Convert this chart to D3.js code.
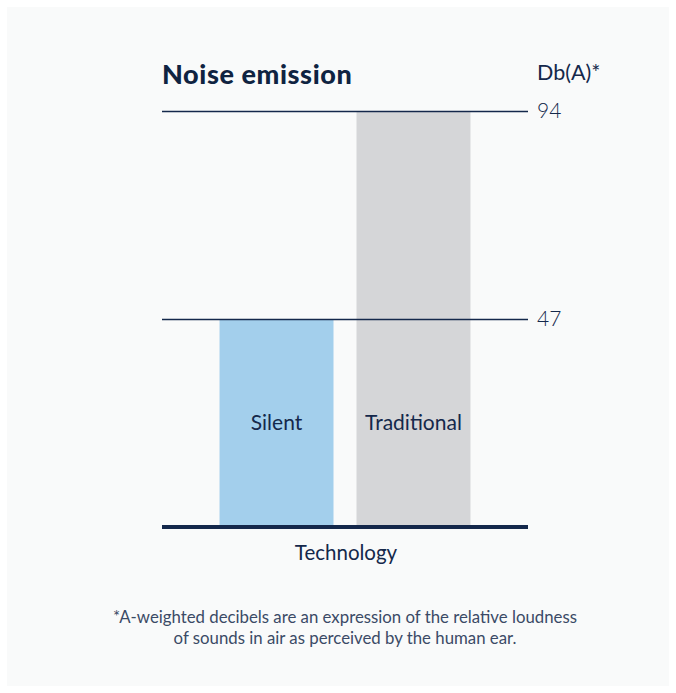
<!DOCTYPE html>
<html>
<head>
<meta charset="utf-8">
<script src="https://cdn.jsdelivr.net/npm/d3@7"></script>
<style>
  html, body { margin: 0; padding: 0; background: #fff; }
  svg { display: block; font-family: Lato, "Open Sans", sans-serif; }
</style>
</head>
<body>
<svg id="chart" width="676" height="693"></svg>
<script>
const categories = ["Silent", "Traditional"];
const values = [47, 94];
const tickValues = [47, 94];
const title = "Noise emission";
const unit = "Db(A)*";
const xLabel = "Technology";
const footnote = [
    "*A-weighted decibels are an expression of the relative loudness",
    "of sounds in air as perceived by the human ear."
];

const navy = "#14284b";
const colors = ["#a3cfec", "#d5d6d8"];

const plotLeft = 162, plotRight = 528, plotBase = 527, plotTop = 111;

const svg = d3.select("#chart");

svg.append("rect")
    .attr("x", 7).attr("y", 7)
    .attr("width", 662).attr("height", 679)
    .attr("fill", "#f9fafa");

const x = d3.scaleBand()
    .domain(categories)
    .range([plotLeft, plotRight])
    .paddingInner(0.168)
    .paddingOuter(0.42);

const y = d3.scaleLinear()
    .domain([0, d3.max(values)])
    .range([plotBase, plotTop]);

// bars
svg.append("g")
    .selectAll("rect")
    .data(categories)
    .join("rect")
    .attr("x", d => x(d))
    .attr("width", x.bandwidth())
    .attr("y", (d, i) => y(values[i]))
    .attr("height", (d, i) => y(0) - y(values[i]))
    .attr("fill", (d, i) => colors[i]);

// value lines + labels
const axis = svg.append("g")
    .attr("transform", `translate(${plotRight},0)`)
    .call(d3.axisRight(y)
        .tickValues(tickValues)
        .tickSize(-(plotRight - plotLeft))
        .tickPadding(9));
axis.select(".domain").remove();
axis.selectAll(".tick line")
    .attr("stroke", navy)
    .attr("stroke-width", 1.5);
axis.selectAll(".tick text")
    .attr("fill", navy)
    .attr("font-size", 21)
    .attr("font-weight", 300)
    .attr("font-family", "Lato, sans-serif");

// baseline
svg.append("line")
    .attr("x1", plotLeft).attr("x2", plotRight)
    .attr("y1", y(0)).attr("y2", y(0))
    .attr("stroke", navy)
    .attr("stroke-width", 4);

// category labels
svg.append("g")
    .selectAll("text")
    .data(categories)
    .join("text")
    .attr("x", d => x(d) + x.bandwidth() / 2)
    .attr("y", 430)
    .attr("text-anchor", "middle")
    .attr("fill", navy)
    .attr("font-size", 21)
    .text(d => d);

svg.append("text")
    .attr("x", 346)
    .attr("y", 560)
    .attr("text-anchor", "middle")
    .attr("fill", navy)
    .attr("font-size", 20.5)
    .text(xLabel);

svg.append("text")
    .attr("x", plotLeft)
    .attr("y", 84)
    .attr("fill", "#0f2341")
    .attr("font-size", 27)
    .attr("font-weight", 900)
    .attr("letter-spacing", 0.6)
    .text(title);

svg.append("text")
    .attr("x", 537)
    .attr("y", 80)
    .attr("fill", navy)
    .attr("font-size", 21.5)
    .text(unit);

svg.append("g")
    .selectAll("text")
    .data(footnote)
    .join("text")
    .attr("x", 345)
    .attr("y", (d, i) => 623 + i * 21)
    .attr("text-anchor", "middle")
    .attr("fill", "#3b4a66")
    .attr("font-size", 16.8)
    .text(d => d);
</script>
</body>
</html>
